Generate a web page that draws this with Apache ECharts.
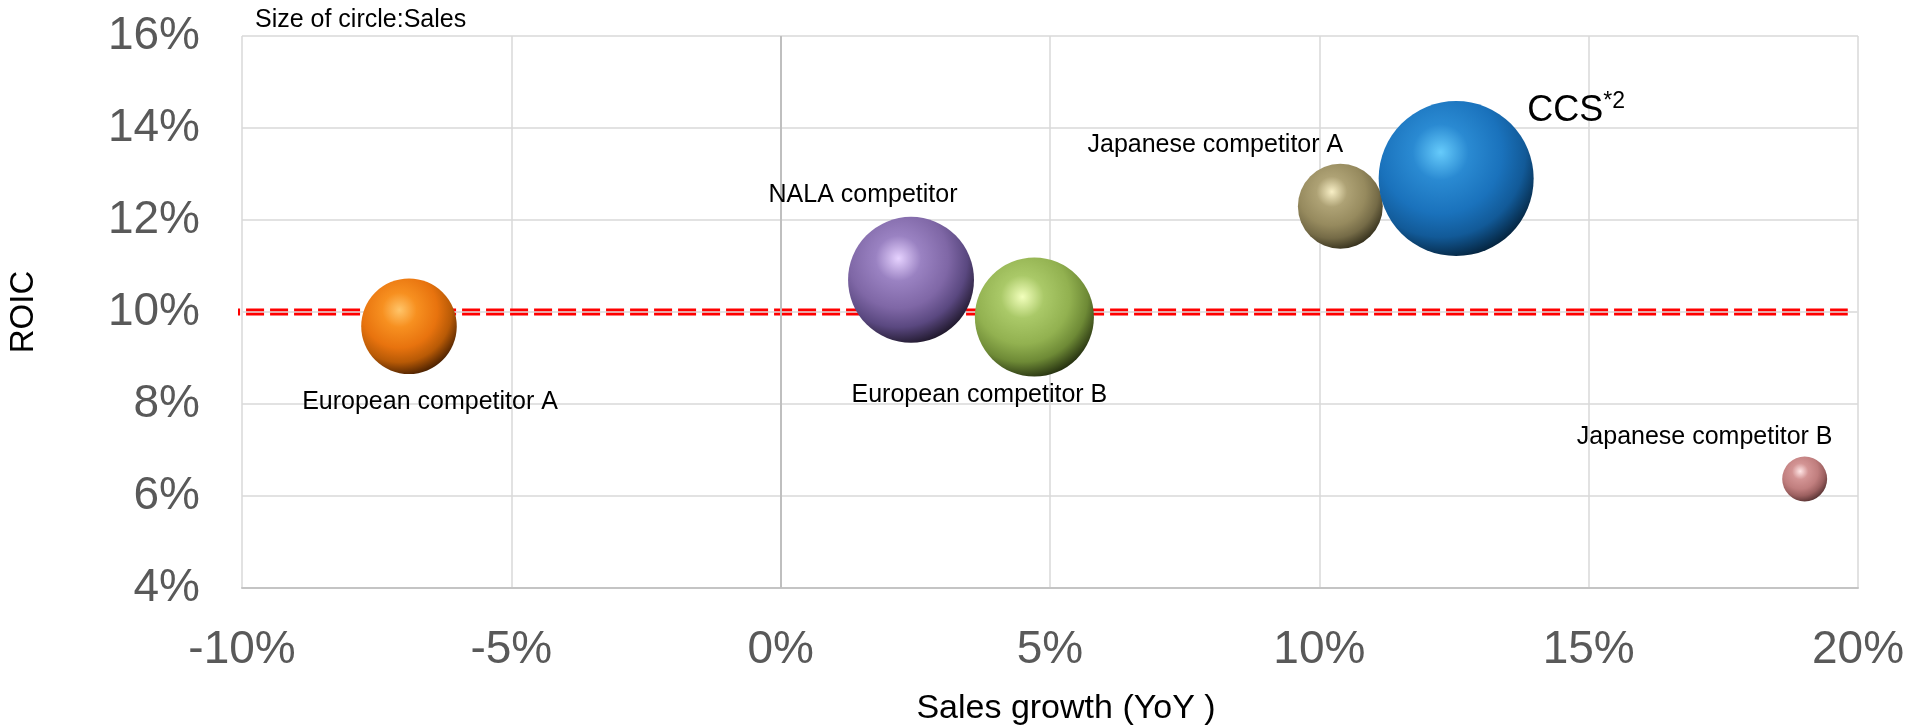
<!DOCTYPE html>
<html>
<head>
<meta charset="utf-8">
<title>ROIC vs Sales growth</title>
<script src="https://cdn.jsdelivr.net/npm/echarts@6/dist/echarts.min.js"></script>
<style>
  html, body { margin: 0; padding: 0; background: #ffffff; }
  #chart { width: 1911px; height: 726px; }
</style>
</head>
<body>
<div id="chart"></div>
<script>
// Companies, sales growth (YoY, %), ROIC (%) and relative sales (bubble area)
const companies   = ['European competitor A', 'NALA competitor', 'European competitor B', 'Japanese competitor A', 'CCS', 'Japanese competitor B'];
const salesGrowth = [-6.9, 2.42, 4.71, 10.39, 12.54, 19.01];
const roic        = [9.69, 10.70, 9.89, 12.30, 12.90, 6.37];
const sales       = [38, 66, 59, 30, 100, 8.4];
const footnotes   = ['', '', '', '', '*2', ''];

// Axis ranges
const xMin = -10, xMax = 20, xStep = 5;
const yMin = 4, yMax = 16, yStep = 2;

// ROIC hurdle line (10%) and its horizontal extent
const hurdleRoic = 10;
const hurdleSpan = [-10.37, 19.81];

// Sphere colours: [highlight, light, base, shade, edge]
const sphereColors = [
  ['#ffc56a', '#f79020', '#e8730e', '#b85a06', '#3a1800'],
  ['#e6d2ff', '#9a82c2', '#7f67a6', '#5a4880', '#17111f'],
  ['#f2ffbc', '#aac968', '#92b150', '#6e8a36', '#1a230a'],
  ['#f8efc6', '#aea275', '#968a5e', '#756b47', '#2c2817'],
  ['#66cbfb', '#2a8ad2', '#1a72bc', '#125a98', '#031c31'],
  ['#ffe6e6', '#d39494', '#c07e7e', '#9c6060', '#4e2c2c']
];
// Label offsets from bubble centre (px)
const labelOffsets = [[21, 76], [-48, -85], [-55, 78], [-125, -61], [120, -68], [-100, -42]];

const maxDiameter = 155;
const maxSales = Math.max.apply(null, sales);
const FONT = '"Liberation Sans", Arial, sans-serif';

function sphere(c) {
  return {
    type: 'radial', x: 0.4, y: 0.33, r: 0.72,
    colorStops: [
      { offset: 0, color: c[0] },
      { offset: 0.25, color: c[1] },
      { offset: 0.55, color: c[2] },
      { offset: 0.76, color: c[3] },
      { offset: 1, color: c[4] }
    ]
  };
}

const bubbleData = companies.map(function (name, i) {
  const note = footnotes[i];
  return {
    name: name,
    value: [salesGrowth[i], roic[i], sales[i]],
    itemStyle: { color: sphere(sphereColors[i]), opacity: 1 },
    label: {
      show: true,
      position: 'inside',
      offset: labelOffsets[i],
      color: '#000',
      fontFamily: FONT,
      fontSize: note ? 36 : 25,
      formatter: note ? '{m|' + name + '}{s|' + note + '}' : name,
      rich: note ? {
        m: { fontSize: 36, lineHeight: 40, color: '#000', fontFamily: FONT },
        s: { fontSize: 23, lineHeight: 32, verticalAlign: 'top', color: '#000', fontFamily: FONT }
      } : undefined
    }
  };
});

const chart = echarts.init(document.getElementById('chart'), null, { renderer: 'canvas' });

chart.setOption({
  animation: false,
  backgroundColor: '#ffffff',
  textStyle: { fontFamily: FONT },
  grid: { left: 242, right: 53, top: 36, bottom: 138, containLabel: false, outerBoundsMode: 'none' },
  graphic: [{
    type: 'text',
    left: 255,
    top: 8,
    style: { text: 'Size of circle:Sales', fontSize: 25, fontFamily: FONT, fill: '#000' }
  }],
  xAxis: {
    type: 'value',
    min: xMin, max: xMax, interval: xStep,
    name: 'Sales growth (YoY )',
    nameLocation: 'middle',
    nameGap: 104,
    nameTextStyle: { fontSize: 34, color: '#000', fontFamily: FONT, padding: [0, 0, 0, 32] },
    axisLine: { show: true, lineStyle: { color: '#c4c4c4', width: 2 } },
    axisTick: { show: false },
    axisLabel: { fontSize: 46, color: '#595959', margin: 39, formatter: '{value}%', fontFamily: FONT },
    splitLine: { show: true, lineStyle: { color: '#d9d9d9', width: 1.5 } }
  },
  yAxis: {
    type: 'value',
    min: yMin, max: yMax, interval: yStep,
    name: 'ROIC',
    nameLocation: 'middle',
    nameRotate: 90,
    nameGap: 202,
    nameTextStyle: { fontSize: 33, color: '#000', fontFamily: FONT },
    axisLine: { show: false },
    axisTick: { show: false },
    axisLabel: { fontSize: 46, color: '#595959', margin: 42, formatter: '{value}%', fontFamily: FONT },
    splitLine: { show: true, lineStyle: { color: '#d9d9d9', width: 1.5 } }
  },
  series: [
    {
      // red dashed ROIC hurdle
      type: 'line',
      data: [[hurdleSpan[0], hurdleRoic], [hurdleSpan[1], hurdleRoic]],
      symbol: 'none',
      clip: false,
      silent: true,
      z: 2,
      lineStyle: { color: '#ff0000', width: 7, type: [18, 6], cap: 'butt', opacity: 1 }
    },
    {
      // 10% grid line drawn above the hurdle, plus the 0% growth line
      type: 'line',
      data: [[xMin, hurdleRoic], [xMax, hurdleRoic]],
      symbol: 'none',
      silent: true,
      z: 3,
      lineStyle: { color: '#e2e2e2', width: 1.5 },
      markLine: {
        silent: true,
        symbol: 'none',
        label: { show: false },
        lineStyle: { color: '#bfbfbf', width: 2, type: 'solid' },
        data: [{ xAxis: 0 }]
      }
    },
    {
      type: 'scatter',
      z: 5,
      data: bubbleData,
      symbolSize: function (val) {
        return maxDiameter * Math.sqrt(val[2] / maxSales);
      },
      itemStyle: { opacity: 1 },
      emphasis: { disabled: true }
    }
  ]
});
</script>
</body>
</html>
